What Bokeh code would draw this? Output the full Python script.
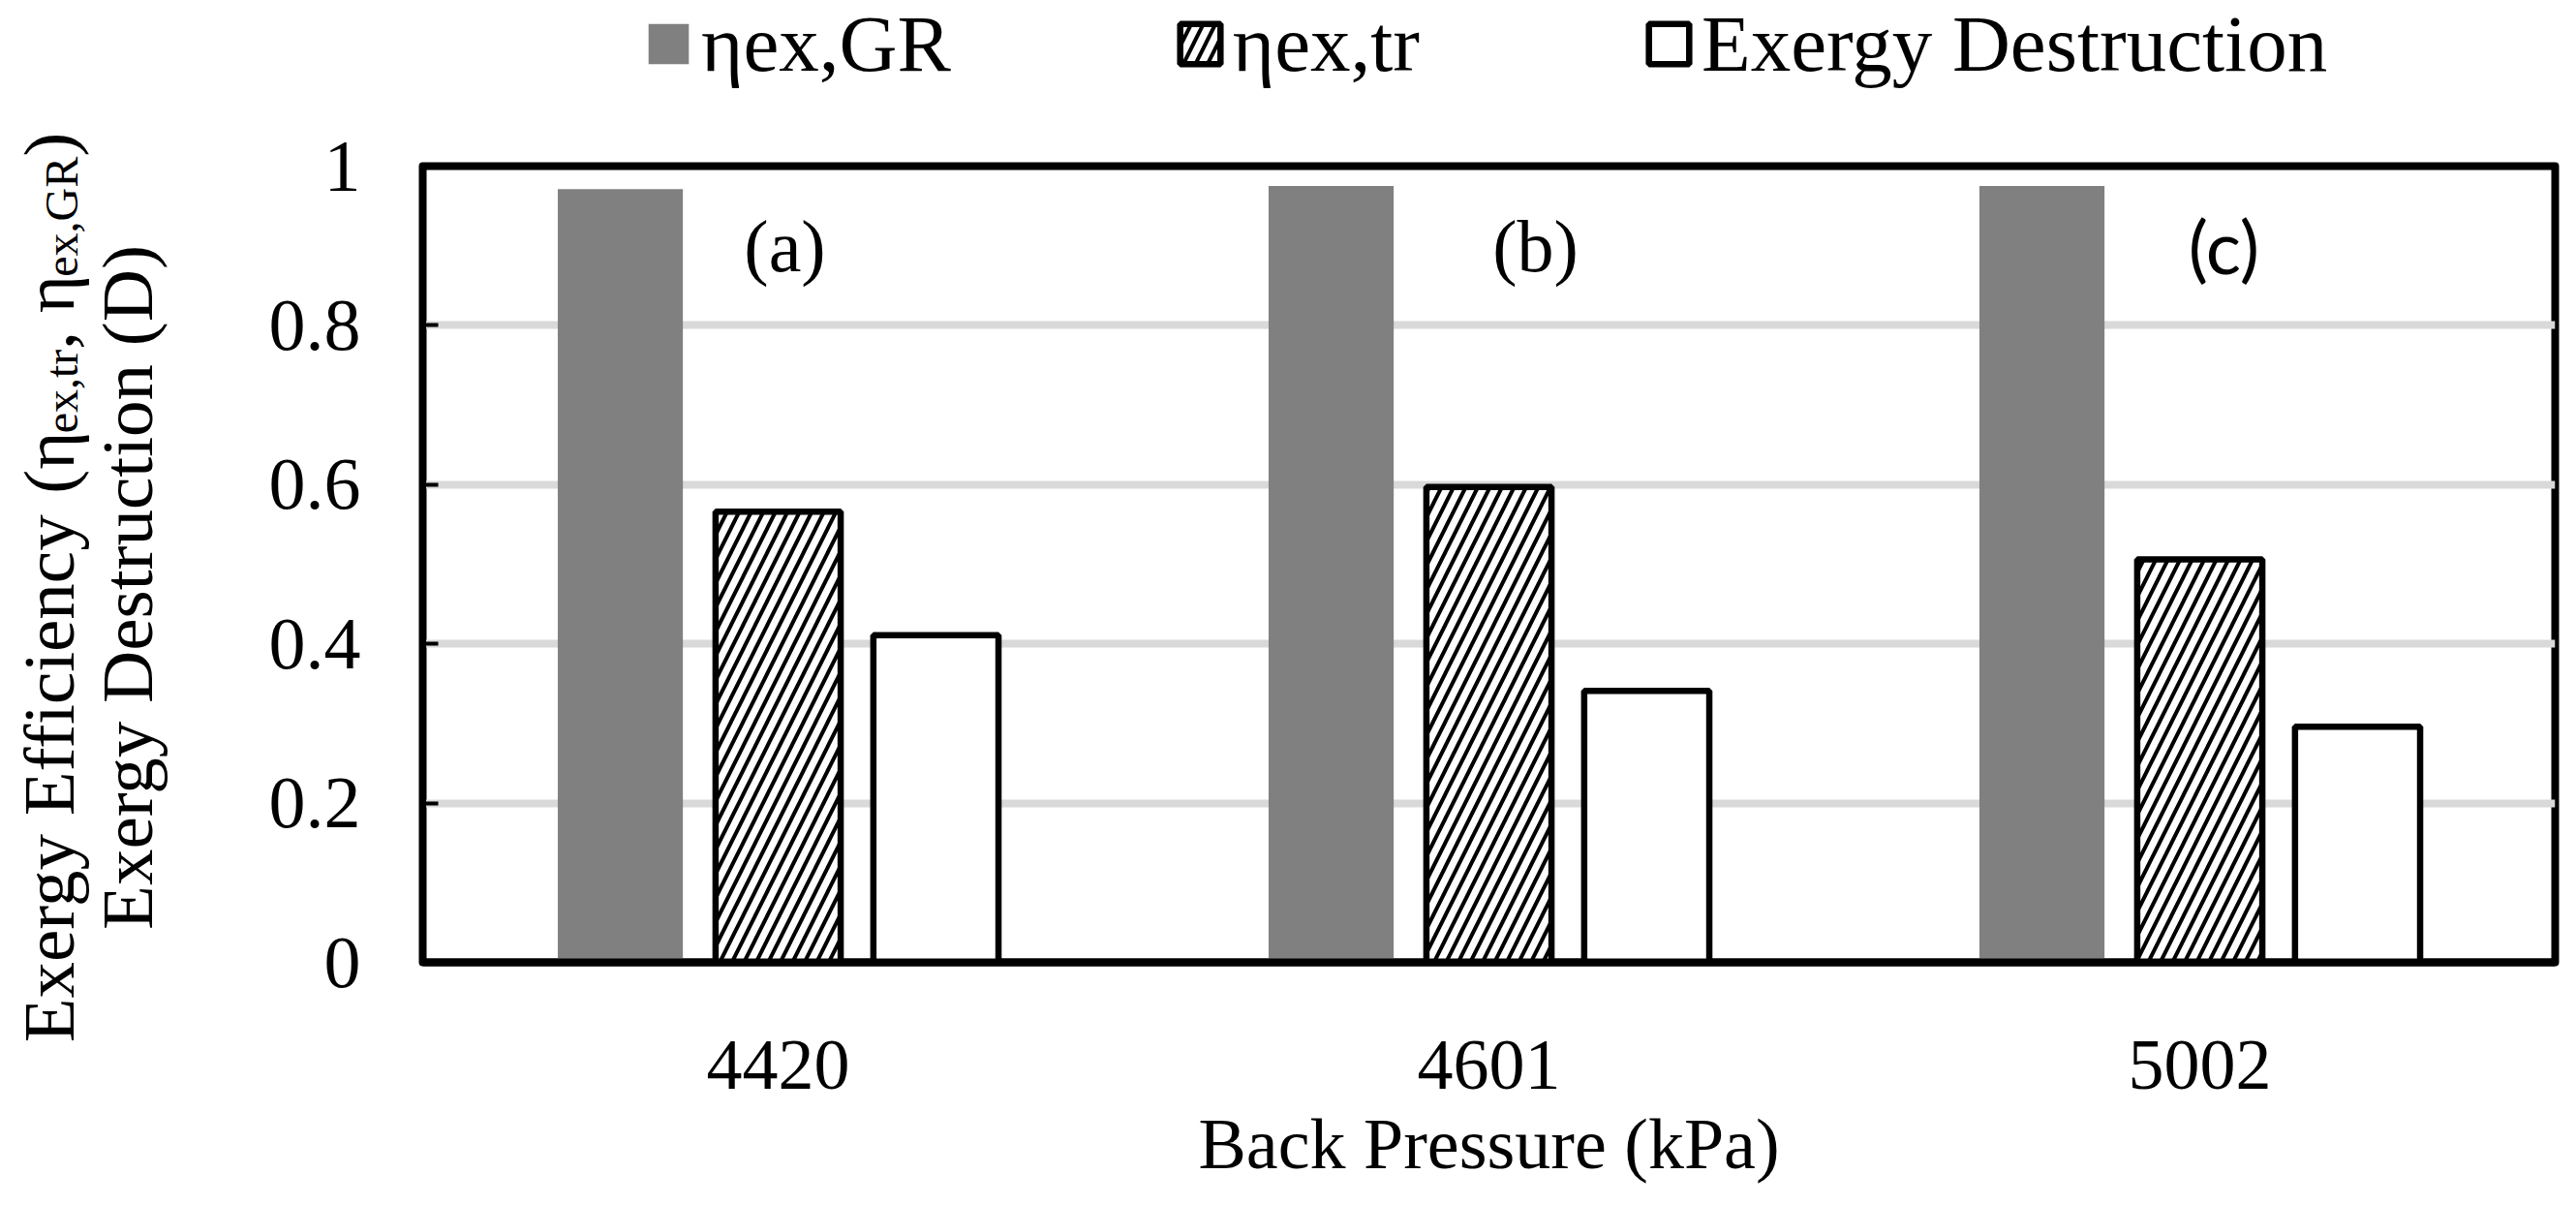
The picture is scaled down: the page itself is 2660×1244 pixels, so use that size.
from math import pi
from bokeh.plotting import figure
from bokeh.layouts import column, row
from bokeh.models import (ColumnDataSource, FactorRange, Range1d, FixedTicker,
                          NumeralTickFormatter, Legend, LegendItem, Label)
from bokeh.transform import dodge
from bokeh.embed import file_html
from bokeh.resources import INLINE

# ---------------- data ----------------
pressures = ["4420", "4601", "5002"]
eta_gr = [0.971, 0.975, 0.975]
eta_tr = [0.566, 0.597, 0.506]
destruction = [0.411, 0.341, 0.296]
panel_tags = ["(a)", "(b)", "(c)"]
y_ticks = [0, 0.2, 0.4, 0.6, 0.8, 1.0]
legend_labels = ["\u03b7ex,GR", "\u03b7ex,tr", "Exergy Destruction"]
x_title = "Back Pressure (kPa)"
y_title_line2 = "Exergy Destruction (D)"

# ---------------- page layout (page pixel coords) ----------------
PAGE_W, PAGE_H = 2660, 1244
STRIP_H = 120        # legend strip height
TITLE_W = 260        # strip holding the y-axis title
FRAME_TOP, FRAME_LEFT, FRAME_RIGHT, FRAME_BOTTOM = 171, 436, 2638, 993
MAIN_W = PAGE_W - TITLE_W
MAIN_H = PAGE_H - STRIP_H
ML = FRAME_LEFT - TITLE_W
MR = PAGE_W - FRAME_RIGHT
MT = FRAME_TOP - STRIP_H
MB = PAGE_H - FRAME_BOTTOM
FH = FRAME_BOTTOM - FRAME_TOP
UNIT = (FRAME_RIGHT - FRAME_LEFT) / len(pressures)
SERIF = "Liberation Serif"


def dx(px):
    return (px - FRAME_LEFT) / UNIT


def dy(py):
    return (FRAME_BOTTOM - py) / FH


BW = 0.176
OFF = 0.222
GR_STYLE = dict(fill_color="#808080", line_color=None)
TR_STYLE = dict(fill_color="white", hatch_pattern="/", hatch_color="black", hatch_scale=25,
                hatch_weight=4, line_color="black", line_width=6.5)
D_STYLE = dict(fill_color="white", line_color="black", line_width=6.5)

# ---------------- main chart ----------------
src = ColumnDataSource(dict(p=pressures, gr=eta_gr, tr=eta_tr, d=destruction))

p = figure(x_range=FactorRange(*pressures, range_padding=0), y_range=Range1d(0, 1),
           width=MAIN_W, height=MAIN_H, output_backend="svg", toolbar_location=None,
           min_border_left=ML, min_border_right=MR, min_border_top=MT,
           min_border_bottom=MB)
p.background_fill_color = "white"
p.border_fill_color = "white"
p.outline_line_color = "black"
p.outline_line_width = 8
p.outline_line_join = "round"

p.vbar(x=dodge("p", -OFF, range=p.x_range), top="gr", width=BW, source=src, **GR_STYLE)
p.vbar(x="p", top="tr", width=BW, source=src, **TR_STYLE)
p.vbar(x=dodge("p", OFF, range=p.x_range), top="d", width=BW, source=src, **D_STYLE)

p.xgrid.grid_line_color = None
p.ygrid.grid_line_color = "#d9d9d9"
p.ygrid.grid_line_width = 8

ya = p.yaxis[0]
ya.ticker = FixedTicker(ticks=y_ticks)
ya.formatter = NumeralTickFormatter(format="0.[0]")
ya.major_label_text_font = SERIF
ya.major_label_text_font_size = "76px"
ya.major_label_text_color = "black"
ya.major_label_standoff = 64
ya.major_tick_in = 16
ya.major_tick_out = 0
ya.major_tick_line_width = 4
ya.major_tick_line_color = "black"
ya.minor_tick_line_color = None
ya.axis_line_color = "black"
ya.axis_line_width = 7

xa = p.xaxis[0]
xa.major_label_text_font = SERIF
xa.major_label_text_font_size = "74px"
xa.major_label_text_color = "black"
xa.major_label_standoff = 81
xa.major_tick_line_color = None
xa.major_tick_in = 0
xa.major_tick_out = 0
xa.minor_tick_line_color = None
xa.axis_line_color = "black"
xa.axis_line_width = 8
xa.axis_label = x_title
xa.axis_label_text_font = SERIF
xa.axis_label_text_font_size = "74px"
xa.axis_label_text_font_style = "normal"
xa.axis_label_text_color = "black"
xa.axis_label_standoff = 13

tag_pos = [(810, 253, SERIF, "76px"), (1585, 253, SERIF, "76px"), (2296, 253, "Lato", "76px")]
for tag, (tx, ty, tf, ts) in zip(panel_tags, tag_pos):
    p.add_layout(Label(x=dx(tx), y=dy(ty), text=tag, text_font=tf, text_font_size=ts,
                       text_align="center", text_baseline="middle", text_color="black"))

# ---------------- legend strip ----------------
# hidden proxy renderers (same data and styles) that only feed the legend glyphs
lg = figure(width=PAGE_W, height=STRIP_H, x_range=FactorRange(*pressures),
            y_range=Range1d(0, 1), x_axis_type=None, y_axis_type=None,
            output_backend="svg", toolbar_location=None,
            min_border_left=0, min_border_right=0, min_border_top=0, min_border_bottom=0)
lg.frame_align = False
lg.outline_line_color = None
lg.grid.visible = False
l_gr = lg.vbar(x="p", top="gr", width=BW, source=src, visible=False, **GR_STYLE)
l_tr = lg.vbar(x="p", top="tr", width=BW, source=src, visible=False, **TR_STYLE)
l_d = lg.vbar(x="p", top="d", width=BW, source=src, visible=False, **D_STYLE)
legend = Legend(items=[LegendItem(label=legend_labels[0], renderers=[l_gr]),
                       LegendItem(label=legend_labels[1], renderers=[l_tr]),
                       LegendItem(label=legend_labels[2], renderers=[l_d])],
                location=(664, STRIP_H - 93),
                orientation="horizontal", glyph_width=52, glyph_height=52,
                label_standoff=8, spacing=231, padding=0, margin=0,
                border_line_color=None, background_fill_alpha=0,
                inactive_fill_alpha=0,
                label_text_font=SERIF, label_text_font_size="83px",
                label_text_color="black")
lg.add_layout(legend)

# ---------------- y-title strip ----------------
tt = figure(width=TITLE_W, height=MAIN_H, x_range=Range1d(0, TITLE_W),
            y_range=Range1d(PAGE_H, STRIP_H), x_axis_type=None, y_axis_type=None,
            output_backend="svg", toolbar_location=None,
            min_border_left=0, min_border_right=0, min_border_top=0, min_border_bottom=0)
tt.frame_align = False
tt.outline_line_color = None
tt.grid.visible = False

WID = {'E': .611, 'x': .5, 'e': .444, 'r': .333, 'g': .5, 'y': .5, ' ': .25, 'f': .333,
       'i': .278, 'c': .444, 'n': .5, '(': .333, ')': .333, 't': .278, ',': .25,
       'G': .722, 'R': .667, '\u03b7': .5}
MAIN, SUB = 75, 48
line1 = [("Exergy Efficiency ", MAIN, 0), ("(", MAIN, 0), ("\u03b7", MAIN, 0),
         ("ex,tr", SUB, 1), (", ", MAIN, 0), ("\u03b7", MAIN, 0), ("ex,GR", SUB, 1),
         (")", MAIN, 0)]
total = sum(sum(WID[c] for c in s) * fs for s, fs, _ in line1)
CENTER_Y = 606
BASE1_X = 50
BASE2_X = 131
pos = CENTER_Y + total / 2
for s, fs, sub in line1:
    bx = BASE1_X + (13 if sub else 0)
    tt.add_layout(Label(x=bx, y=pos, text=s, angle=pi / 2, text_font=SERIF,
                        text_font_size=f"{fs}px", text_align="left",
                        text_baseline="alphabetic", text_color="black"))
    pos -= sum(WID[c] for c in s) * fs

tt.add_layout(Label(x=BASE2_X, y=CENTER_Y, text=y_title_line2, angle=pi / 2,
                    text_font=SERIF, text_font_size=f"{MAIN}px", text_align="center",
                    text_baseline="alphabetic", text_color="black"))

layout = column(lg, row(tt, p))
open("out.html", "w").write(file_html(layout, INLINE))
